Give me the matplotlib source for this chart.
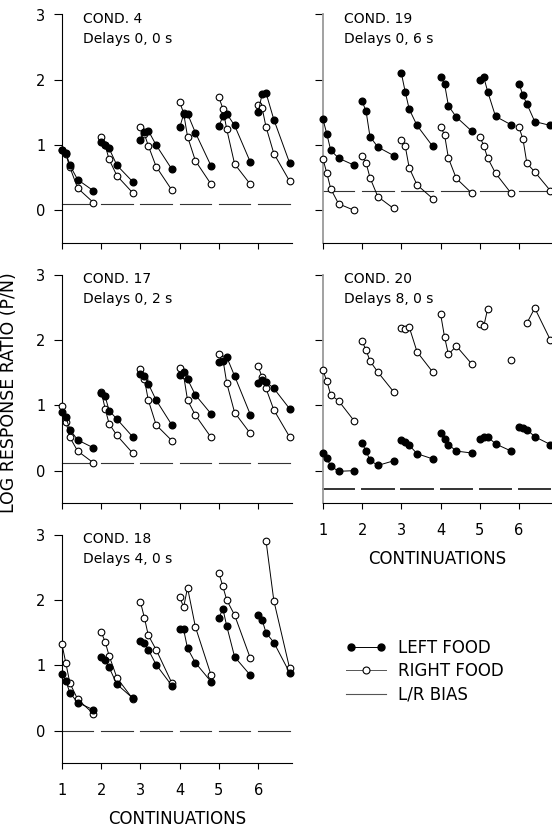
import numpy as np
import matplotlib
matplotlib.use("Agg")
import matplotlib.pyplot as plt
from matplotlib.lines import Line2D
from matplotlib.legend_handler import HandlerLine2D

plt.rcParams['font.family'] = ['DejaVu Sans']

nan = np.nan

# sample points inside each continuation block
offsets = [0.0, 0.1, 0.2, 0.4, 0.8]
continuations = [1, 2, 3, 4, 5, 6]

# log response ratio per continuation block (rows) and sample (columns)
cond4_left = [
    [0.92, 0.88, 0.69, 0.47, 0.30],
    [1.05, 1.00, 0.95, 0.69, 0.44],
    [1.08, 1.20, 1.22, 1.00, 0.63],
    [1.27, 1.47, 1.48, 1.19, 0.68],
    [1.29, 1.44, 1.48, 1.30, 0.74],
    [1.50, 1.78, 1.80, 1.39, 0.73],
]
cond4_right = [
    [0.93, 0.86, 0.66, 0.34, 0.12],
    [1.12, 1.00, 0.78, 0.53, 0.27],
    [1.27, 1.17, 0.99, 0.67, 0.31],
    [1.66, 1.49, 1.13, 0.76, 0.40],
    [1.73, 1.56, 1.24, 0.71, 0.40],
    [1.62, 1.57, 1.28, 0.87, 0.45],
]
cond17_left = [
    [0.90, 0.82, 0.63, 0.47, 0.35],
    [1.19, 1.14, 0.92, 0.79, 0.52],
    [1.48, 1.45, 1.33, 1.08, 0.70],
    [1.46, 1.51, 1.40, 1.16, 0.87],
    [1.67, 1.68, 1.74, 1.45, 0.86],
    [1.35, 1.39, 1.36, 1.26, 0.95],
]
cond17_right = [
    [0.99, 0.75, 0.51, 0.30, 0.12],
    [1.21, 0.95, 0.72, 0.54, 0.27],
    [1.56, 1.40, 1.08, 0.70, 0.46],
    [1.57, 1.46, 1.08, 0.85, 0.51],
    [1.79, 1.71, 1.34, 0.89, 0.57],
    [1.60, 1.43, 1.26, 0.93, 0.52],
]
cond18_left = [
    [0.87, 0.76, 0.58, 0.43, 0.32],
    [1.13, 1.08, 0.97, 0.71, 0.50],
    [1.37, 1.35, 1.24, 1.01, 0.69],
    [1.55, 1.55, 1.26, 1.04, 0.75],
    [1.72, 1.87, 1.60, 1.13, 0.85],
    [1.77, 1.70, 1.50, 1.35, 0.89],
]
cond18_right = [
    [1.32, 1.03, 0.73, 0.48, 0.26],
    [1.51, 1.36, 1.15, 0.81, 0.49],
    [1.97, 1.73, 1.46, 1.24, 0.73],
    [2.05, 1.89, 2.19, 1.59, 0.85],
    [2.41, 2.21, 2.00, 1.77, 1.11],
    [nan, nan, 2.91, 1.99, 0.96],
]
cond19_left = [
    [1.40, 1.17, 0.92, 0.80, 0.69],
    [1.67, 1.52, 1.13, 0.97, 0.84],
    [2.10, 1.81, 1.55, 1.30, 0.98],
    [2.04, 1.94, 1.60, 1.43, 1.21],
    [1.99, 2.04, 1.82, 1.44, 1.31],
    [1.94, 1.76, 1.63, 1.36, 1.30],
]
cond19_right = [
    [0.79, 0.57, 0.33, 0.10, 0.00],
    [0.83, 0.73, 0.50, 0.21, 0.03],
    [1.08, 0.98, 0.65, 0.39, 0.18],
    [1.28, 1.16, 0.80, 0.49, 0.26],
    [1.13, 0.99, 0.80, 0.57, 0.26],
    [1.27, 1.09, 0.72, 0.59, 0.30],
]
cond20_left = [
    [0.27, 0.19, 0.07, -0.01, 0.00],
    [0.42, 0.30, 0.16, 0.08, 0.15],
    [0.47, 0.44, 0.39, 0.26, 0.18],
    [0.57, 0.48, 0.40, 0.30, 0.27],
    [0.49, 0.51, 0.52, 0.41, 0.30],
    [0.67, 0.66, 0.63, 0.52, 0.40],
]
cond20_right = [
    [1.54, 1.37, 1.16, 1.07, 0.76],
    [1.98, 1.85, 1.68, 1.51, 1.21],
    [2.19, 2.17, 2.20, 1.82, 1.51],
    [2.40, 2.05, 1.78, 1.91, 1.63],
    [2.25, 2.21, 2.48, nan, 1.69],
    [nan, nan, 2.26, 2.49, 2.00],
]

# L/R bias level of each condition
bias = {"4": 0.10, "17": 0.11, "18": -0.01, "19": 0.29, "20": -0.28}
delays = {"4": "0, 0", "17": "0, 2", "18": "4, 0", "19": "0, 6", "20": "8, 0"}

yticks = [0, 1, 2, 3]


def draw_panel(ax, left, right, cond, bias_lw=0.8, gray_spine=False,
               xlabels=False, ylabels=True):
    """
    Draws one condition: left/right food curves per continuation and bias.
    """
    for k, c in enumerate(continuations):
        x = [c + o for o in offsets]
        ax.plot([x[0], x[-1]], [bias[cond], bias[cond]], color='#333333',
                lw=bias_lw, zorder=1, clip_on=False)
        ax.plot(x, right[k], '-o', color='black', lw=0.7, ms=4.8,
                mfc='white', mec='black', mew=0.8, zorder=3, clip_on=False)
        ax.plot(x, left[k], '-o', color='black', lw=0.7, ms=4.8,
                mfc='black', mec='black', zorder=4, clip_on=False)

    ax.set_xlim(1, 6.85)
    ax.set_ylim(-0.5, 3)
    ax.set_xticks(continuations)
    ax.set_yticks(yticks)
    ax.spines['top'].set_visible(False)
    ax.spines['right'].set_visible(False)
    ax.spines['left'].set_linewidth(0.8)
    ax.spines['bottom'].set_linewidth(0.8)
    if gray_spine:
        ax.spines['left'].set_color('#9a9a9a')
        ax.spines['left'].set_linewidth(1.3)
    ax.tick_params(axis='y', length=6, width=0.8, pad=6, labelsize=10.5,
                   labelleft=ylabels)
    ax.tick_params(axis='x', length=4.5, width=0.8, pad=10, labelsize=10.5,
                   labelbottom=xlabels)
    if xlabels:
        ax.set_xlabel("CONTINUATIONS", fontsize=12, labelpad=8)

    ax.text(0.09, 0.962, f"COND. {cond}", transform=ax.transAxes,
            fontsize=10, va='baseline', ha='left')
    ax.text(0.09, 0.877, f"Delays {delays[cond]} s", transform=ax.transAxes,
            fontsize=10, va='baseline', ha='left')


fig = plt.figure(figsize=(5.52, 8.30), dpi=100)

W, H = 552, 830
aw, ah = 229.5 / W, 228.5 / H
left_x, right_x = 62 / W, 322.9 / W
rows = [1 - 243 / H, 1 - 503.3 / H, 1 - 763.3 / H]

ax4 = fig.add_axes([left_x, rows[0], aw, ah])
ax17 = fig.add_axes([left_x, rows[1], aw, ah])
ax18 = fig.add_axes([left_x, rows[2], aw, ah])
ax19 = fig.add_axes([right_x, rows[0], aw, ah])
ax20 = fig.add_axes([right_x, rows[1], aw, ah])

draw_panel(ax4, cond4_left, cond4_right, "4")
draw_panel(ax17, cond17_left, cond17_right, "17")
draw_panel(ax18, cond18_left, cond18_right, "18", xlabels=True)
draw_panel(ax19, cond19_left, cond19_right, "19", gray_spine=True,
           ylabels=False)
draw_panel(ax20, cond20_left, cond20_right, "20", bias_lw=1.4,
           gray_spine=True, xlabels=True, ylabels=False)

fig.text(9 / W, 1 - 393 / H, "LOG RESPONSE RATIO (P/N)", rotation=90,
         fontsize=12.5, ha='center', va='center')

h_left = Line2D([], [], color='black', lw=0.7, marker='o', ms=5,
                mfc='black', mec='black')
h_right = Line2D([], [], color='#555555', lw=0.7, marker='o', ms=5,
                 mfc='white', mec='black', mew=0.8)
h_bias = Line2D([], [], color='#555555', lw=0.8)
fig.legend([h_left, h_right, h_bias], ["LEFT FOOD", "RIGHT FOOD", "L/R BIAS"],
           handler_map={h_left: HandlerLine2D(numpoints=2),
                        h_right: HandlerLine2D(numpoints=1)},
           loc='upper left', bbox_to_anchor=(346 / W, 1 - 639 / H),
           frameon=False, fontsize=12, handlelength=2.4, handletextpad=0.7,
           labelspacing=0.32, borderpad=0, borderaxespad=0)

fig.savefig("out.png", dpi=100)
